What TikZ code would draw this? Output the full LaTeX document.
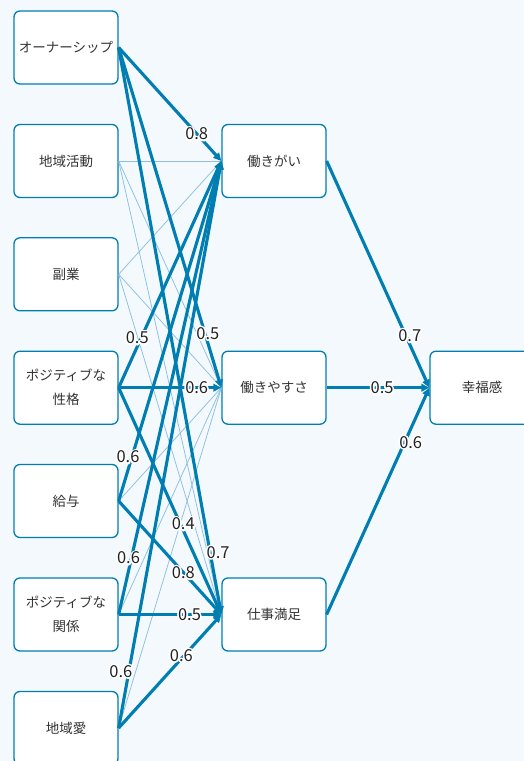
\documentclass[tikz,border=0pt]{standalone}
\usepackage{fontspec}
\setmainfont{Noto Sans CJK JP}
\usetikzlibrary{arrows.meta}
\definecolor{bgc}{RGB}{244,249,254}
\definecolor{edgec}{RGB}{0,126,178}
\definecolor{thinc}{RGB}{140,192,222}
\definecolor{txtc}{RGB}{51,51,51}
\definecolor{lblc}{RGB}{34,34,34}
\newcommand{\halotext}[1]{\leavevmode\rlap{\special{pdf:literal direct 1 Tr 3.4 w 1 J 1 j 1 1 1 RG}#1\special{pdf:literal direct 0 Tr 0.133 0.133 0.133 RG 1 w}}#1}
\begin{document}
\begin{tikzpicture}[x=1pt,y=-1pt,
  box/.style={draw=edgec, line width=1.3pt, fill=white, rounded corners=6pt,
    minimum width=104pt, minimum height=73pt, align=center, text=txtc,
    font=\fontsize{13.5}{24}\selectfont, inner sep=0pt},
  thickedge/.style={draw=edgec, line width=3.1pt, -{Triangle[length=8pt,width=7.5pt]}},
  thinedge/.style={draw=thinc, line width=0.75pt},
  lbl/.style={font=\fontsize{16.5}{16.5}\selectfont, text=lblc, inner sep=0pt}]
\fill[bgc] (0,0) rectangle (524,761);
\path[use as bounding box] (0,0) rectangle (524,761);
\clip (0,0) rectangle (524,761);
% left column
\node[box] (o) at (66,47.5) {オーナーシップ};
\node[box] (c) at (66,161) {地域活動};
\node[box] (f) at (66,274.3) {副業};
\node[box] (p) at (66,387.7) {ポジティブな\\性格};
\node[box] (s) at (66,501) {給与};
\node[box] (r) at (66,614.5) {ポジティブな\\関係};
\node[box] (l) at (66,728) {地域愛};
% middle column
\node[box] (m1) at (274,161) {働きがい};
\node[box] (m2) at (274,387.7) {働きやすさ};
\node[box] (m3) at (274,614.5) {仕事満足};
% right
\node[box] (h) at (482,387.7) {幸福感};
% thin edges
\foreach \a/\b in {c/m1,c/m2,c/m3,f/m1,f/m2,f/m3,s/m2,r/m2,l/m2}
  \draw[thinedge] (\a.east) -- (\b.west);
% thick edges
\foreach \a/\b in {o/m1,o/m2,o/m3,p/m1,p/m2,p/m3,s/m1,s/m3,r/m1,r/m3,l/m1,l/m3,m1/h,m2/h,m3/h}
  \draw[thickedge] (\a.east) -- (\b.west);
% labels
\foreach \a/\b/\t/\v/\dx in {o/m1/0.76/0.8/0, o/m2/0.84/0.5/3, o/m3/0.89/0.7/8,
    p/m1/0.22/0.5/-4, p/m2/0.76/0.6/0, p/m3/0.6/0.4/3,
    s/m1/0.13/0.6/-4, s/m3/0.63/0.8/0, r/m1/0.125/0.6/-3, r/m3/0.69/0.5/0,
    l/m1/0.1/0.6/-8, l/m3/0.64/0.6/-3,
    m1/h/0.77/0.7/4, m2/h/0.54/0.5/0, m3/h/0.76/0.6/6}
  \path (\a.east) -- node[lbl, pos=\t, xshift=\dx pt] {\halotext{\v}} (\b.west);
\end{tikzpicture}
\end{document}
